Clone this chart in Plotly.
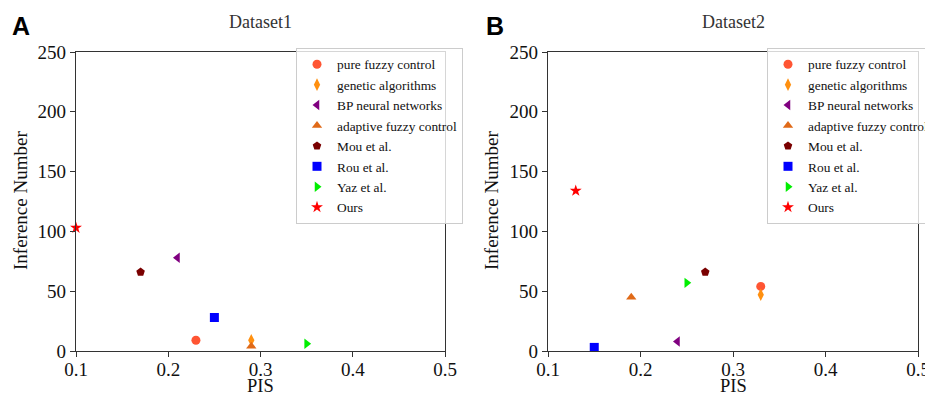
import plotly.graph_objects as go

methods = ["pure fuzzy control", "genetic algorithms", "BP neural networks",
           "adaptive fuzzy control", "Mou et al.", "Rou et al.", "Yaz et al.", "Ours"]
symbols = ["circle", "diamond-tall", "triangle-left", "triangle-up",
           "pentagon", "square", "triangle-right", "star"]
colors = ["#FF5533", "#FF9010", "#800080", "#E06A18",
          "#7A0000", "#0000FF", "#00EE00", "#FF0000"]

d1_pis = [0.23, 0.29, 0.21, 0.29, 0.17, 0.25, 0.35, 0.10]
d1_inf = [9, 9, 78, 4, 66, 28, 6, 103]
d2_pis = [0.33, 0.33, 0.24, 0.19, 0.27, 0.15, 0.25, 0.13]
d2_inf = [54, 47, 8, 45, 66, 3, 57, 134]

x_ticks = [0.1, 0.2, 0.3, 0.4, 0.5]
y_ticks = [0, 50, 100, 150, 200, 250]

FONT = "Liberation Serif"
OFF = 8  # default page body margin
W, H = 933 - 2 * OFF, 404 - 2 * OFF
ML, MT = 76 - OFF, 52 - OFF
MR = W - (918 - OFF)
MB = H - (351 - OFF)
PW, PH = W - ML - MR, H - MT - MB


def fx(px):
    return (px - OFF - ML) / PW


def fy(py):
    return (H - MB - (py - OFF)) / PH


fig = go.Figure()

panels = [("x", "y", "legend", d1_pis, d1_inf), ("x2", "y2", "legend2", d2_pis, d2_inf)]
for xa, ya, lg, px, py in panels:
    for i, m in enumerate(methods):
        fig.add_trace(go.Scatter(
            x=[px[i]], y=[py[i]], mode="markers", name=m,
            xaxis=xa, yaxis=ya, legend=lg, cliponaxis=False,
            marker=dict(symbol=symbols[i], color=colors[i], size=9,
                        line=dict(width=0)),
        ))

axis_common = dict(showline=True, linecolor="#333", linewidth=1.2, mirror=True,
                   ticks="outside", ticklen=5, tickcolor="#333", showgrid=False, zeroline=False,
                   automargin=False, ticklabeloverflow="allow",
                   tickfont=dict(family=FONT, size=19, color="#111"))
x_axis_extra = dict(ticklabelstandoff=-4)
xt = ["0.1", "0.2", "0.3", "0.4", "0.5"]

legend_common = dict(xanchor="left", yanchor="top",
                     bgcolor="rgba(255,255,255,0.8)", bordercolor="#ccc", borderwidth=1,
                     font=dict(family=FONT, size=13.4, color="#111"), tracegroupgap=0)


def ann(text, x, y, size, color="#111", family=FONT, angle=0, xanchor="center", yanchor="middle"):
    return dict(text=text, x=fx(x), y=fy(y), xref="paper", yref="paper", showarrow=False,
                textangle=angle, xanchor=xanchor, yanchor=yanchor,
                font=dict(family=family, size=size, color=color))


fig.update_layout(
    width=W, height=H,
    margin=dict(l=ML, r=MR, t=MT, b=MB, autoexpand=False),
    paper_bgcolor="white", plot_bgcolor="white",
    font=dict(family=FONT, color="#111"),
    showlegend=True,
    xaxis=dict(domain=[0, fx(445)], range=[0.1, 0.5], tickvals=x_ticks, ticktext=xt, anchor="y",
               **axis_common, **x_axis_extra),
    yaxis=dict(domain=[0, 1], range=[0, 250], tickvals=y_ticks, anchor="x", **axis_common),
    xaxis2=dict(domain=[fx(548), 1], range=[0.1, 0.5], tickvals=x_ticks, ticktext=xt, anchor="y2",
                **axis_common, **x_axis_extra),
    yaxis2=dict(domain=[0, 1], range=[0, 250], tickvals=y_ticks, anchor="x2", **axis_common),
    legend=dict(x=fx(296), y=fy(48), **legend_common),
    legend2=dict(x=fx(767), y=fy(48), **legend_common),
    annotations=[
        ann("Dataset1", (76 + 445) / 2, 22, 18, "#333"),
        ann("Dataset2", (548 + 918) / 2, 22, 18, "#333"),
        ann("<b>A</b>", 10, 26, 25, "#000", "Liberation Sans", xanchor="left"),
        ann("<b>B</b>", 484, 26, 25, "#000", "Liberation Sans", xanchor="left"),
        ann("PIS", (76 + 445) / 2, 386, 18.5),
        ann("PIS", (548 + 918) / 2, 386, 18.5),
        ann("Inference Number", 20, 201, 19, angle=-90),
        ann("Inference Number", 491, 201, 19, angle=-90),
    ],
)

fig.write_html("out.html")
